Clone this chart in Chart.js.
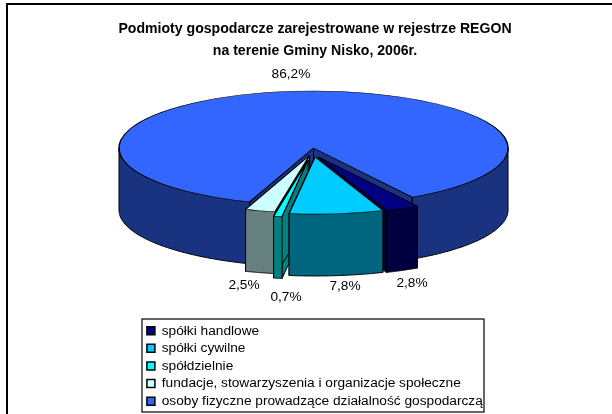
<!DOCTYPE html>
<html>
<head>
<meta charset="utf-8">
<style>html,body{margin:0;padding:0;background:#fff}#wrap{width:612px;height:414px}</style>
<script src="https://cdn.jsdelivr.net/npm/chart.js@4"></script>
</head>
<body>
<div id="wrap"><canvas id="c" width="612" height="414"></canvas></div>
<script>
const titleLines = ['Podmioty gospodarcze zarejestrowane w rejestrze REGON', 'na terenie Gminy Nisko, 2006r.'];
const categories = ['spółki handlowe', 'spółki cywilne', 'spółdzielnie', 'fundacje, stowarzyszenia i organizacje społeczne', 'osoby fizyczne prowadzące działalność gospodarczą'];
const values = [2.8, 7.8, 0.7, 2.5, 86.2];
const topColors = ['#000080', '#00CCFF', '#00FFFF', '#CCFFFF', '#3366FF'];
const wallColors = ['#000040', '#006680', '#008080', '#668080', '#1A3380'];

// Look of the 3D pie
const geom = { cx: 313.5, cy: 148, radius: 194.5, squash: 0.293, depth: 62, startDeg: 149.5 };
const explodeX = [5, 1.5, -5.5, -4, 0];
const explodeY = [9, 9, 12, 7.5, 0];
const paintOrder = [4, 0, 3, 2, 1];
const labelSpots = [[412, 283], [345, 286], [286, 297], [244, 285], [291, 74]];
const legendBox = { left: 142, top: 319, right: 484, bottom: 412 };

function wallFaces(ctx, arc, color) {
  const k = geom.squash, d = geom.depth, r = arc.outerRadius;
  const X = a => arc.x + r * Math.cos(a);
  const Y = a => geom.cy + (arc.y - geom.cy) * k + r * Math.sin(a) * k;
  const ax = arc.x, ay = geom.cy + (arc.y - geom.cy) * k;
  ctx.fillStyle = color; ctx.strokeStyle = '#000'; ctx.lineWidth = 1; ctx.lineJoin = 'round';
  [arc.startAngle, arc.endAngle].forEach(a => {
    ctx.beginPath();
    ctx.moveTo(ax, ay); ctx.lineTo(X(a), Y(a)); ctx.lineTo(X(a), Y(a) + d); ctx.lineTo(ax, ay + d);
    ctx.closePath(); ctx.fill(); ctx.stroke();
  });
  // Outer wall: the part of the rim that faces the viewer
  const TAU = Math.PI * 2;
  for (let n = -1; n <= 2; n++) {
    const a0 = Math.max(arc.startAngle, n * TAU), a1 = Math.min(arc.endAngle, n * TAU + Math.PI);
    if (a1 <= a0) continue;
    ctx.beginPath();
    const steps = 60;
    for (let i = 0; i <= steps; i++) { const a = a0 + (a1 - a0) * i / steps; i ? ctx.lineTo(X(a), Y(a)) : ctx.moveTo(X(a), Y(a)); }
    for (let i = steps; i >= 0; i--) { const a = a0 + (a1 - a0) * i / steps; ctx.lineTo(X(a), Y(a) + d); }
    ctx.closePath(); ctx.fill(); ctx.stroke();
  }
}

const pie3d = {
  id: 'pie3d',
  beforeDraw(chart) {
    const ctx = chart.ctx;
    ctx.save();
    ctx.fillStyle = '#000';
    ctx.fillRect(6, 3, 606, 2);
    ctx.fillRect(6, 3, 2, 411);
    const b = legendBox;
    ctx.fillStyle = '#fff'; ctx.strokeStyle = '#000'; ctx.lineWidth = 1.2;
    ctx.fillRect(b.left, b.top, b.right - b.left, b.bottom - b.top);
    ctx.strokeRect(b.left, b.top, b.right - b.left, b.bottom - b.top);
    ctx.restore();
  },
  afterDatasetsUpdate(chart) {
    const arcs = chart.getDatasetMeta(0).data;
    arcs.forEach((arc, i) => {
      arc.x = geom.cx + explodeX[i];
      arc.y = geom.cy + explodeY[i] / geom.squash;
    });
  },
  afterLayout(chart) {
    const l = chart.legend, b = legendBox;
    l.left = b.left + 1; l.right = b.right; l.top = b.top + 1; l.bottom = b.bottom + 40;
    l.width = b.right - b.left; l.height = b.bottom + 40 - b.top;
    const t = chart.titleBlock;
    t.left = geom.cx - 306 + 1.5; t.right = geom.cx + 306 + 1.5; t.width = 612;
  },
  beforeDatasetsDraw(chart) {
    const ctx = chart.ctx, arcs = chart.getDatasetMeta(0).data;
    paintOrder.forEach(i => wallFaces(ctx, arcs[i], wallColors[i]));
    ctx.save();
    ctx.translate(0, geom.cy);
    ctx.scale(1, geom.squash);
    ctx.translate(0, -geom.cy);
  },
  afterDatasetsDraw(chart) {
    const ctx = chart.ctx;
    ctx.restore();
    ctx.save();
    ctx.fillStyle = '#000';
    ctx.font = '13.7px "Liberation Sans", Arial, sans-serif';
    ctx.textAlign = 'center'; ctx.textBaseline = 'middle';
    values.forEach((v, i) => ctx.fillText(v.toFixed(1).replace('.', ',') + '%', labelSpots[i][0], labelSpots[i][1]));
    ctx.restore();
  }
};

new Chart(document.getElementById('c'), {
  type: 'pie',
  data: {
    labels: categories,
    datasets: [{
      data: values,
      backgroundColor: topColors,
      borderColor: '#000',
      borderWidth: 1.5,
      radius: geom.radius,
      rotation: geom.startDeg
    }]
  },
  options: {
    responsive: false,
    animation: false,
    plugins: {
      tooltip: { enabled: false },
      title: {
        display: true,
        text: titleLines,
        color: '#000',
        padding: { top: 19, bottom: 0 },
        font: { family: '"Liberation Sans", Arial, sans-serif', size: 14.1, weight: 'bold', lineHeight: 1.5 }
      },
      legend: {
        display: true,
        position: 'chartArea',
        align: 'start',
        labels: {
          color: '#000',
          boxWidth: 8,
          boxHeight: 8,
          padding: 3.9,
          font: { family: '"Liberation Sans", Arial, sans-serif', size: 13.7 }
        }
      }
    }
  },
  plugins: [pie3d]
});
</script>
</body>
</html>
